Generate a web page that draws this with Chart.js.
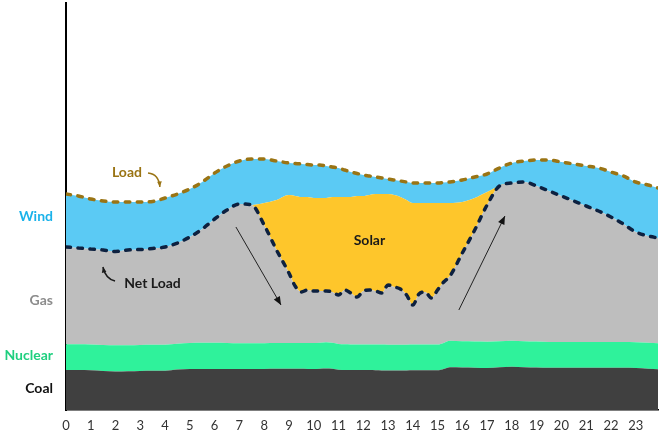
<!DOCTYPE html>
<html>
<head>
<meta charset="utf-8">
<script src="https://cdn.jsdelivr.net/npm/chart.js"></script>
<style>
  html, body { margin: 0; padding: 0; background: #fff; }
  #wrap { width: 662px; height: 436px; }
</style>
</head>
<body>
<div id="wrap"><canvas id="duckChart" width="662" height="436"></canvas></div>
<script>
// hour of day (finer steps around midday where net load is jagged)
const hours = [0,0.5,1,1.5,2,2.5,3,3.5,4,4.5,5,5.5,6,6.5,7,7.5,8,8.5,9,
  9.25,9.5,9.75,10,10.25,10.5,10.75,11,11.25,11.5,11.75,12,12.25,12.5,12.75,13,13.25,13.5,13.75,14,14.25,14.5,14.75,15,15.25,15.5,
  16,16.5,17,17.5,18,18.5,19,19.5,20,20.5,21,21.5,22,22.5,23,23.5,23.9];

// GW
const coal = [4.0,4.0,3.97,3.9,3.85,3.87,3.9,3.92,3.93,4.05,4.1,4.1,4.1,4.1,4.1,4.1,4.1,4.12,4.13,
  4.12,4.12,4.11,4.1,4.12,4.15,4.12,4.03,4.0,4.0,4.0,4.0,4.0,3.97,3.96,3.95,3.95,3.96,3.96,3.97,3.97,3.97,3.97,3.97,4.1,4.27,
  4.25,4.23,4.2,4.27,4.33,4.28,4.25,4.23,4.23,4.23,4.23,4.23,4.23,4.22,4.2,4.12,4.07];

const nuclear = [2.57,2.57,2.58,2.6,2.62,2.6,2.6,2.6,2.6,2.58,2.6,2.62,2.63,2.6,2.58,2.58,2.57,2.57,2.57,
  2.57,2.57,2.58,2.6,2.6,2.62,2.6,2.57,2.57,2.56,2.56,2.56,2.56,2.57,2.58,2.58,2.57,2.57,2.57,2.57,2.57,2.57,2.57,2.57,2.6,2.65,
  2.62,2.62,2.63,2.6,2.6,2.6,2.6,2.58,2.57,2.57,2.57,2.57,2.57,2.57,2.58,2.6,2.6];

const netLoad = [16.3,16.2,16.1,16.0,15.85,16.0,16.05,16.15,16.3,16.7,17.3,18.1,19.1,20.0,20.6,20.5,18.5,16.0,13.7,
  12.4,11.8,12.0,11.9,11.9,11.9,11.8,11.5,12.0,11.7,11.3,11.9,12.0,11.9,11.7,12.5,12.3,12.1,11.5,10.5,11.6,11.8,11.2,12.0,12.8,13.4,
  15.7,18.0,20.5,22.4,22.7,22.8,22.4,21.9,21.4,20.9,20.4,19.9,19.3,18.6,17.8,17.4,17.2];

const solar = [0,0,0,0,0,0,0,0,0,0,0,0,0,0,0,0,2.2,5.0,7.8,
  9.0,9.5,9.3,9.3,9.3,9.3,9.5,9.8,9.3,9.6,10.1,9.5,9.5,9.7,9.9,9.1,9.2,9.2,9.5,10.2,9.1,8.9,9.5,8.7,7.9,7.3,
  5.1,3.2,1.3,0,0,0,0,0,0,0,0,0,0,0,0,0,0];

const load = [21.6,21.4,21.1,20.9,20.8,20.8,20.8,20.85,21.2,21.6,22.1,22.8,23.7,24.4,24.9,25.1,25.1,24.9,24.7,
  24.65,24.6,24.55,24.5,24.5,24.4,24.3,24.2,24.0,23.8,23.65,23.5,23.4,23.3,23.2,23.1,23.0,22.9,22.8,22.7,22.7,22.7,22.7,22.7,22.75,22.8,
  23.0,23.3,23.6,24.2,24.7,24.9,25.0,25.0,24.8,24.6,24.4,24.2,23.8,23.4,22.8,22.5,22.2];

const xTicks = [0,1,2,3,4,5,6,7,8,9,10,11,12,13,14,15,16,17,18,19,20,21,22,23];

// stacked tops for the filled bands
const pts = arr => hours.map((h, i) => ({ x: h, y: arr[i] }));
const coalTop = coal;
const nuclearTop = coal.map((c, i) => c + nuclear[i]);
const gasTop = netLoad;
const solarTop = netLoad.map((n, i) => n + solar[i]);
const windTop = load;

function band(label, data, color, fill) {
  return {
    label: label,
    data: pts(data),
    backgroundColor: color,
    borderColor: color,
    borderWidth: 0,
    pointRadius: 0,
    fill: fill,
    order: 1
  };
}

function dashed(label, data, color) {
  return {
    label: label,
    data: pts(data),
    borderColor: color,
    borderWidth: 3.5,
    borderDash: [4.5, 7.5],
    borderCapStyle: 'round',
    pointRadius: 0,
    fill: false,
    order: 0
  };
}

// text + arrows on top
const notes = {
  id: 'notes',
  afterDraw(chart) {
    const ctx = chart.ctx;
    const xs = chart.scales.x, ys = chart.scales.y;
    const X = v => xs.getPixelForValue(v), Y = v => ys.getPixelForValue(v);
    const left = chart.chartArea.left;

    ctx.save();
    ctx.textBaseline = 'middle';
    ctx.font = 'bold 14px Lato';

    ctx.textAlign = 'right';
    ctx.fillStyle = '#1ab2ea'; ctx.fillText('Wind', left - 13, Y(19.4));
    ctx.fillStyle = '#8c8c8c'; ctx.fillText('Gas', left - 13, Y(11.0));
    ctx.fillStyle = '#1fcf7f'; ctx.fillText('Nuclear', left - 13, Y(5.5));
    ctx.fillStyle = '#111'; ctx.fillText('Coal', left - 13, Y(2.2));

    ctx.textAlign = 'center';
    ctx.fillStyle = '#9a7414'; ctx.fillText('Load', X(2.46), Y(23.8));
    ctx.fillStyle = '#1a1a1a'; ctx.fillText('Net Load', X(3.49), Y(12.7));
    ctx.fillText('Solar', X(12.25), Y(17.0));

    // curved pointers
    curved(ctx, X(3.31), Y(23.7), X(3.75), Y(23.6), X(3.79), Y(22.3), '#9a7414');
    curved(ctx, X(1.98), Y(12.9), X(1.6), Y(13.1), X(1.49), Y(14.3), '#1a1a1a');

    // straight ramp arrows
    straight(ctx, X(6.86), Y(18.3), X(8.68), Y(10.5));
    straight(ctx, X(15.86), Y(10.0), X(17.72), Y(19.4));
    ctx.restore();
  }
};

function head(ctx, x, y, ang, len, color) {
  ctx.fillStyle = color;
  ctx.beginPath();
  ctx.moveTo(x, y);
  ctx.lineTo(x - len * Math.cos(ang - 0.4), y - len * Math.sin(ang - 0.4));
  ctx.lineTo(x - len * Math.cos(ang + 0.4), y - len * Math.sin(ang + 0.4));
  ctx.closePath();
  ctx.fill();
}

function curved(ctx, x0, y0, cx, cy, x1, y1, color) {
  ctx.strokeStyle = color;
  ctx.lineWidth = 1.5;
  ctx.beginPath();
  ctx.moveTo(x0, y0);
  ctx.quadraticCurveTo(cx, cy, x1, y1);
  ctx.stroke();
  head(ctx, x1, y1, Math.atan2(y1 - cy, x1 - cx), 6, color);
}

function straight(ctx, x0, y0, x1, y1) {
  ctx.strokeStyle = '#222';
  ctx.lineWidth = 1;
  ctx.beginPath();
  ctx.moveTo(x0, y0);
  ctx.lineTo(x1, y1);
  ctx.stroke();
  head(ctx, x1, y1, Math.atan2(y1 - y0, x1 - x0), 9, '#111');
}

const ctx = document.getElementById('duckChart').getContext('2d');
new Chart(ctx, {
  type: 'line',
  data: {
    datasets: [
      dashed('Net Load', netLoad, '#0d2140'),
      dashed('Load', load, '#9a7414'),
      band('Coal', coalTop, '#404040', 'origin'),
      band('Nuclear', nuclearTop, '#2ff29b', '-1'),
      band('Gas', gasTop, '#bebebe', '-1'),
      band('Solar', solarTop, '#fec62b', '-1'),
      band('Wind', windTop, '#5bcaf4', '-1')
    ]
  },
  options: {
    responsive: false,
    animation: false,
    events: [],
    elements: { line: { cubicInterpolationMode: 'monotone' } },
    layout: { padding: { left: 66, right: 4, top: 3, bottom: 0 } },
    plugins: {
      legend: { display: false },
      tooltip: { enabled: false }
    },
    scales: {
      x: {
        type: 'linear',
        min: 0,
        max: 23.9,
        afterBuildTicks: axis => { axis.ticks = xTicks.map(v => ({ value: v })); },
        afterFit: axis => { axis.height = 26; },
        grid: { display: false, drawTicks: false },
        border: { display: true, color: '#000', width: 1.5 },
        ticks: { padding: 8, color: '#333', font: { family: 'Lato', size: 13 } }
      },
      y: {
        min: 0,
        max: 40.7,
        grid: { display: false, drawTicks: false },
        border: { display: true, color: '#000', width: 2 },
        ticks: { display: false }
      }
    }
  },
  plugins: [notes]
});
</script>
</body>
</html>
